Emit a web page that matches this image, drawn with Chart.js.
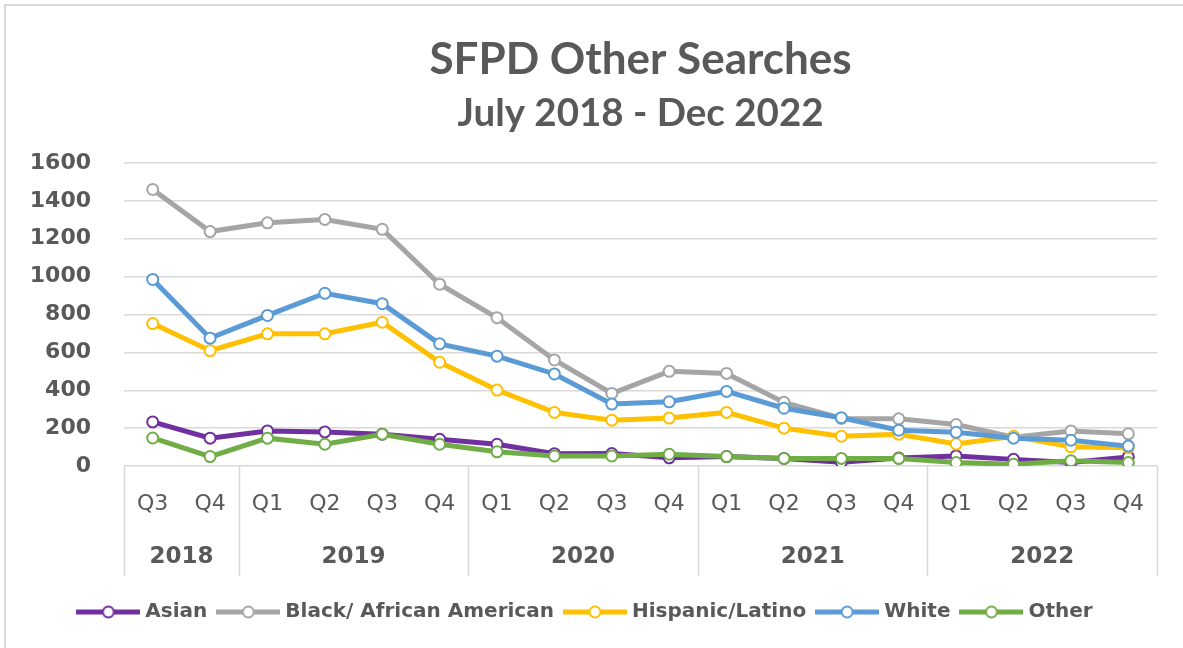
<!DOCTYPE html>
<html>
<head>
<meta charset="utf-8">
<title>SFPD Other Searches</title>
<script src="https://cdn.jsdelivr.net/npm/chart.js@4.4.1/dist/chart.umd.min.js"></script>
<style>
    html, body { margin: 0; padding: 0; background: #fff; }
    #frame {
        position: absolute; left: 4px; top: 4px; width: 1179px; height: 644px;
        border-left: 2px solid #d9d9d9; border-top: 2px solid #d9d9d9;
        box-sizing: border-box;
    }
    #searchesChart { position: absolute; left: 0; top: 0; }
</style>
</head>
<body>
<div id="frame"></div>
<canvas id="searchesChart" width="1183" height="648"></canvas>
<script>
const quarterLabels = ['Q3', 'Q4', 'Q1', 'Q2', 'Q3', 'Q4', 'Q1', 'Q2', 'Q3', 'Q4', 'Q1', 'Q2', 'Q3', 'Q4', 'Q1', 'Q2', 'Q3', 'Q4'];
const yearLabels = ['2018', '2019', '2020', '2021', '2022'];
const quartersPerYear = [2, 4, 4, 4, 4];

const asian = [233, 147, 185, 180, 168, 141, 115, 65, 66, 43, 50, 40, 20, 42, 53, 35, 18, 48];
const blackAfricanAmerican = [1460, 1238, 1284, 1302, 1250, 960, 783, 560, 383, 500, 489, 336, 251, 249, 219, 152, 185, 170];
const hispanicLatino = [752, 609, 698, 698, 759, 548, 401, 283, 242, 253, 283, 200, 157, 168, 116, 157, 101, 97];
const white = [985, 675, 795, 912, 857, 645, 580, 486, 327, 339, 394, 305, 255, 189, 178, 147, 136, 105];
const other = [148, 50, 147, 115, 168, 115, 75, 53, 53, 62, 50, 40, 40, 40, 18, 9, 28, 18];

const textColor = '#595959';
const gridColor = '#d9d9d9';

// excel style legend key: line with a hollow circle in the middle
function legendMarker(color) {
    const c = document.createElement('canvas');
    c.width = 64;
    c.height = 16;
    const g = c.getContext('2d');
    g.strokeStyle = color;
    g.lineWidth = 5;
    g.beginPath();
    g.moveTo(0, 8);
    g.lineTo(64, 8);
    g.stroke();
    g.beginPath();
    g.arc(32, 8, 5.5, 0, Math.PI * 2);
    g.fillStyle = '#fff';
    g.fill();
    g.lineWidth = 2;
    g.stroke();
    return c;
}

function series(label, data, color, order) {
    return {
        label: label,
        data: data,
        borderColor: color,
        backgroundColor: color,
        borderWidth: 5,
        tension: 0,
        pointRadius: 5.5,
        pointBorderWidth: 2,
        pointBackgroundColor: '#fff',
        pointBorderColor: color,
        order: order
    };
}

// year row under the quarter labels, with the group separators
const yearGroupsPlugin = {
    id: 'yearGroups',
    afterDraw(chart) {
        const ctx = chart.ctx;
        const x = chart.scales.x;
        const top = chart.chartArea.bottom;
        const step = (x.right - x.left) / quarterLabels.length;
        ctx.save();
        ctx.strokeStyle = gridColor;
        ctx.lineWidth = 1.5;
        ctx.fillStyle = textColor;
        ctx.font = 'bold 23px "DejaVu Sans"';
        ctx.textAlign = 'center';
        ctx.textBaseline = 'middle';
        let start = 0;
        const edges = [x.left];
        yearLabels.forEach((year, i) => {
            const end = start + quartersPerYear[i] - 1;
            const left = x.getPixelForValue(start) - step / 2;
            const right = x.getPixelForValue(end) + step / 2;
            edges.push(right);
            ctx.fillText(year, (left + right) / 2, top + 91);
            start = end + 1;
        });
        edges.forEach(px => {
            ctx.beginPath();
            ctx.moveTo(Math.round(px) + 0.5, top);
            ctx.lineTo(Math.round(px) + 0.5, top + 110);
            ctx.stroke();
        });
        ctx.restore();
    }
};

const markers = [
    legendMarker('#7030A0'),
    legendMarker('#A5A5A5'),
    legendMarker('#FFC000'),
    legendMarker('#5B9BD5'),
    legendMarker('#70AD47')
];

new Chart(document.getElementById('searchesChart'), {
    type: 'line',
    data: {
        labels: quarterLabels,
        datasets: [
            series('Asian', asian, '#7030A0', 5),
            series('Black/ African American', blackAfricanAmerican, '#A5A5A5', 4),
            series('Hispanic/Latino', hispanicLatino, '#FFC000', 3),
            series('White', white, '#5B9BD5', 2),
            series('Other', other, '#70AD47', 1)
        ]
    },
    options: {
        responsive: false,
        animation: false,
        layout: { padding: { left: 17, right: 26, top: 0, bottom: 16 } },
        scales: {
            y: {
                min: 0,
                max: 1600,
                ticks: {
                    stepSize: 200,
                    color: textColor,
                    padding: 33,
                    font: { family: 'DejaVu Sans', size: 22, weight: 'bold' },
                    callback: value => String(value)
                },
                grid: { color: gridColor, lineWidth: 1.5, drawTicks: false },
                border: { display: false },
                afterFit(scale) { scale.width = 107; }
            },
            x: {
                offset: true,
                ticks: {
                    color: textColor,
                    padding: 17,
                    maxRotation: 0,
                    autoSkip: false,
                    font: { family: 'DejaVu Sans', size: 22 }
                },
                grid: { display: false },
                border: { display: false },
                afterFit(scale) { scale.height = 122; }
            }
        },
        plugins: {
            title: {
                display: true,
                fullSize: false,
                text: 'SFPD Other Searches',
                color: textColor,
                font: { family: 'Lato', size: 44, weight: 'bold', lineHeight: 1.2 },
                padding: { top: 33, bottom: 0 }
            },
            subtitle: {
                display: true,
                fullSize: false,
                text: 'July 2018 - Dec 2022',
                color: textColor,
                font: { family: 'Lato', size: 38.5, weight: 'bold', lineHeight: 1.2 },
                padding: { top: 5, bottom: 26 }
            },
            legend: {
                position: 'bottom',
                labels: {
                    color: textColor,
                    usePointStyle: true,
                    pointStyleWidth: 54,
                    boxHeight: 16,
                    padding: 14,
                    font: { family: 'DejaVu Sans', size: 20, weight: 'bold' },
                    sort: (a, b) => a.datasetIndex - b.datasetIndex,
                    generateLabels(chart) {
                        const items = Chart.defaults.plugins.legend.labels.generateLabels(chart);
                        return items.map(item => Object.assign(item, { pointStyle: markers[item.datasetIndex] }));
                    }
                }
            },
            tooltip: { enabled: false }
        }
    },
    plugins: [yearGroupsPlugin]
});
</script>
</body>
</html>
